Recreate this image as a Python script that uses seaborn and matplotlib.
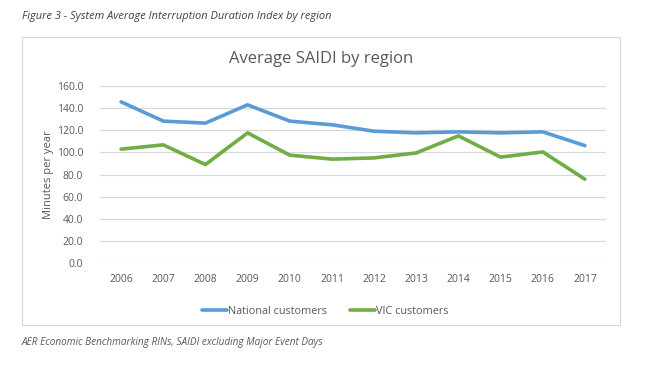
import matplotlib
matplotlib.use("Agg")
import matplotlib.pyplot as plt
import seaborn as sns
import pandas as pd
from matplotlib.patches import Rectangle

years = ["2006", "2007", "2008", "2009", "2010", "2011", "2012", "2013", "2014", "2015", "2016", "2017"]
national = [145.7, 128.3, 126.5, 143.0, 128.3, 125.0, 119.2, 117.7, 118.6, 117.7, 118.6, 106.2]
vic = [103.0, 106.9, 89.1, 117.7, 97.6, 94.0, 95.1, 99.6, 115.0, 95.8, 100.5, 75.9]
series_names = ["National customers", "VIC customers"]
yticks = [0, 20, 40, 60, 80, 100, 120, 140, 160]

df = pd.DataFrame({
    "Year": years * 2,
    "Value": national + vic,
    "Series": [series_names[0]] * len(years) + [series_names[1]] * len(years),
})

sns.set_theme(style="white")
plt.rcParams["font.family"] = ["Open Sans", "DejaVu Sans"]
txt = "#595959"

fig = plt.figure(figsize=(6.61, 3.82), dpi=100)
ax = fig.add_axes([0.1513, 0.3107, 0.7655, 0.4642])

sns.lineplot(data=df, x="Year", y="Value", hue="Series",
             palette={series_names[0]: "#5B9BD5", series_names[1]: "#70AD47"},
             linewidth=2.6, ax=ax, sort=False)

ax.set_xlim(-0.5, len(years) - 0.5)
ax.set_ylim(0, 160)
ax.set_yticks(yticks)
ax.set_yticklabels([f"{v:.1f}" for v in yticks], fontsize=7.5, color=txt)
ax.tick_params(axis="x", labelsize=7.5, labelcolor=txt, length=0, pad=8)
ax.tick_params(axis="y", length=0, pad=12)
ax.yaxis.grid(True, color="#D9D9D9", linewidth=0.9)
ax.set_axisbelow(True)
for s in ax.spines.values():
    s.set_visible(False)
ax.set_xlabel("")
ax.set_ylabel("Minutes per year", fontsize=8, color=txt, labelpad=2)

# chart title centred over the chart area box
fig.text(321 / 661, 1 - 59 / 382, "Average SAIDI by region", fontsize=12, color=txt,
         ha="center", va="center")

leg = ax.legend(loc="upper center", bbox_to_anchor=(0.445, -0.185), ncol=2,
                frameon=False, fontsize=7.8, handlelength=2.3, handletextpad=0.1,
                columnspacing=2.2, labelcolor=txt)
for h in leg.get_lines():
    h.set_linewidth(2.6)

# outer chart border
fig.patches.append(Rectangle((22 / 661, 1 - 325 / 382), (620 - 22) / 661, (325 - 37) / 382,
                             transform=fig.transFigure, fill=False,
                             edgecolor="#D9D9D9", linewidth=0.9))

fig.text(22 / 661, 1 - 17 / 382, "Figure 3 - System Average Interruption Duration Index by region",
         fontsize=7.9, style="italic", color="#404040", va="center", ha="left")
fig.text(22 / 661, 1 - 343 / 382, "AER Economic Benchmarking RINs, SAIDI excluding Major Event Days",
         fontsize=7.2, style="italic", color="#595959", va="center", ha="left")

fig.savefig("out.png", dpi=100)
